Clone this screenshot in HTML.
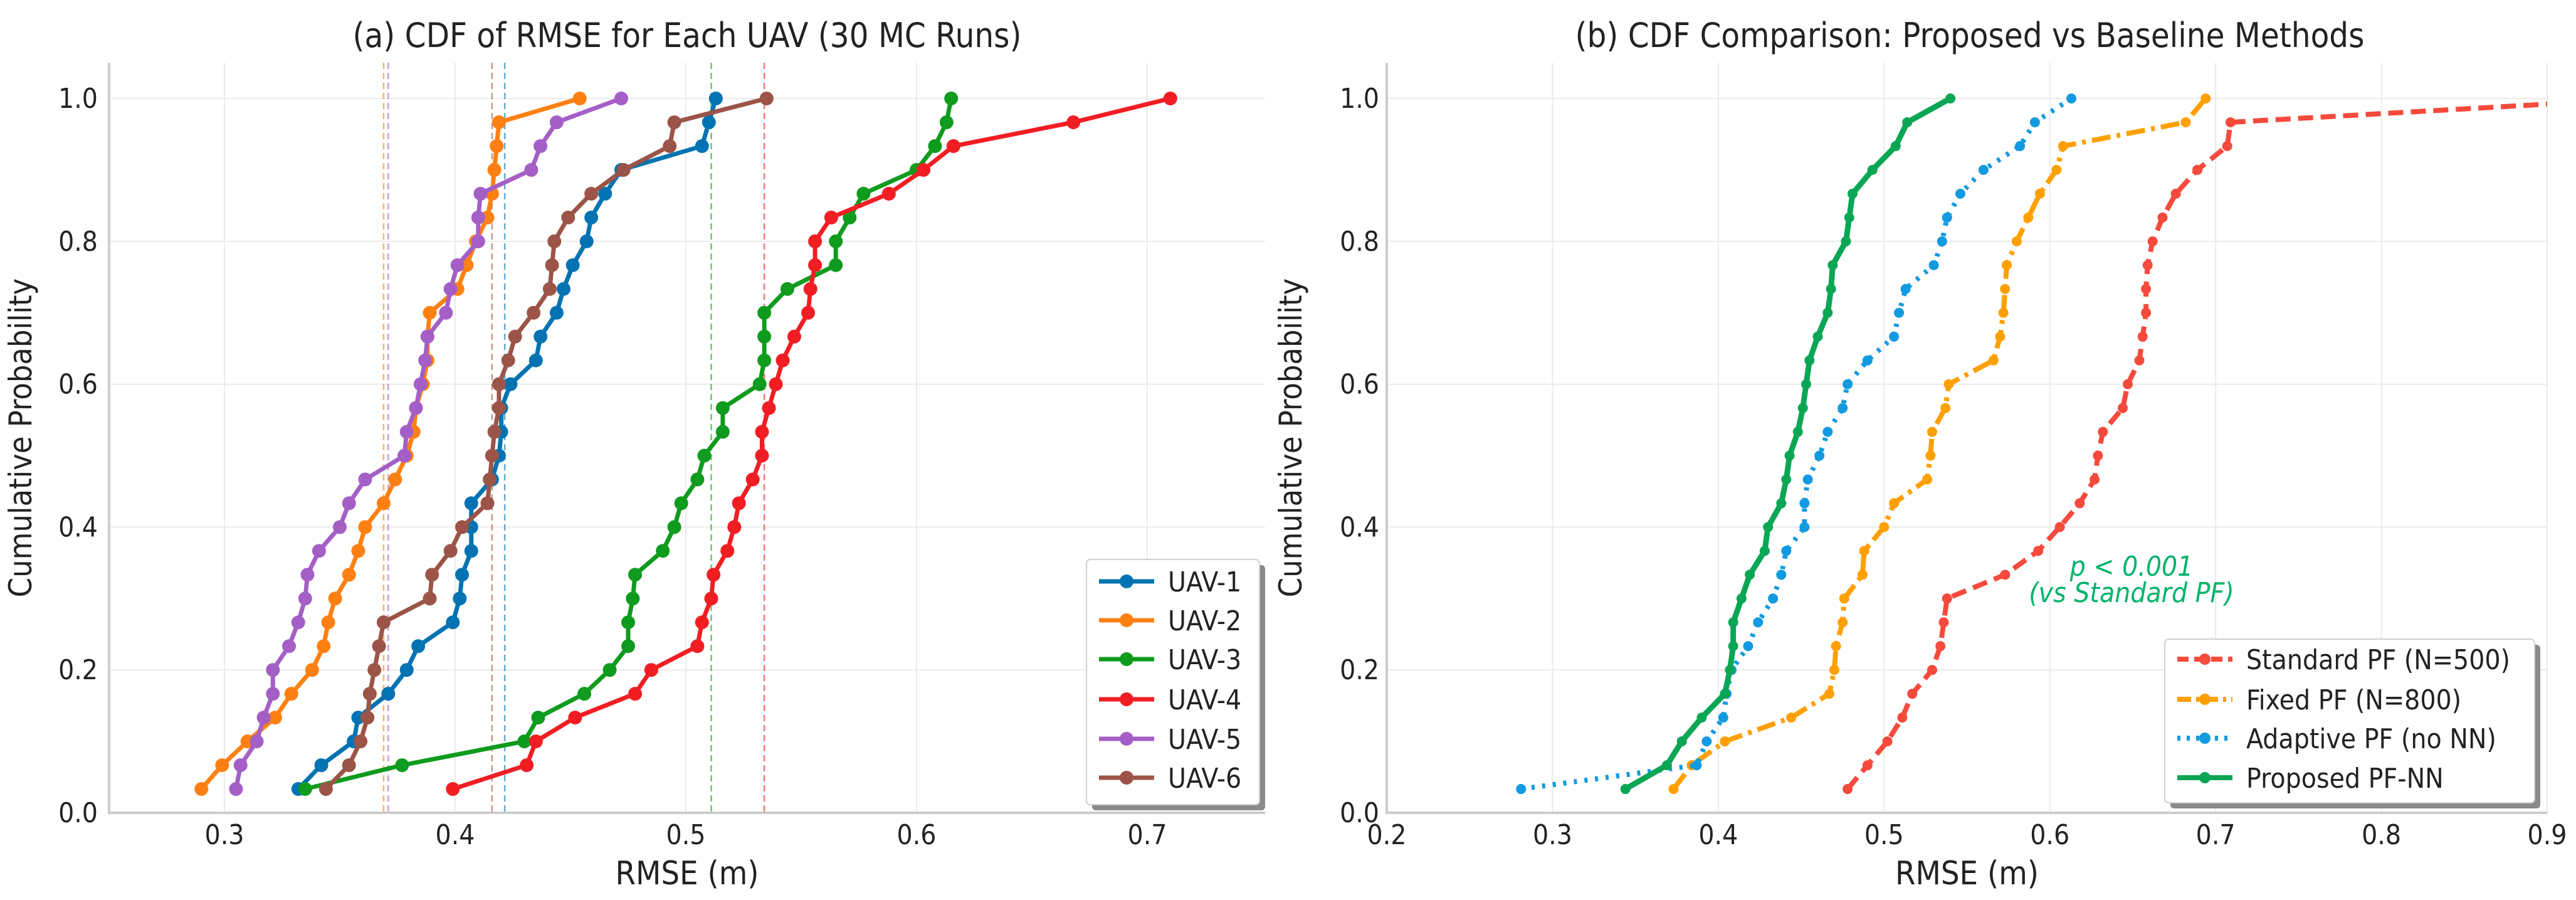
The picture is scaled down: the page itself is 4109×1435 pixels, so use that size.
<!DOCTYPE html>
<html><head><meta charset="utf-8"><style>
html,body{margin:0;padding:0;background:#fff;}
svg{display:block;}
text{font-family:"DejaVu Sans Condensed","DejaVu Sans","Liberation Sans",sans-serif;fill:#222;}
</style></head><body>
<svg id="fig" xmlns="http://www.w3.org/2000/svg" width="4109" height="1435" viewBox="0 0 4109 1435"></svg>
<script>
// ---------- Data: left panel ----------
const uavNames = ["UAV-1","UAV-2","UAV-3","UAV-4","UAV-5","UAV-6"];
const uav1 = [.332,.342,.356,.358,.371,.379,.384,.399,.402,.403,.407,.407,.407,.416,.419,.420,.420,.424,.435,.437,.444,.447,.451,.457,.459,.465,.472,.507,.510,.513];
const uav2 = [.290,.299,.310,.322,.329,.338,.343,.345,.348,.354,.358,.361,.369,.374,.379,.382,.383,.386,.388,.388,.389,.401,.405,.409,.414,.416,.417,.418,.419,.454];
const uav3 = [.335,.377,.430,.436,.456,.467,.475,.475,.477,.478,.490,.495,.498,.505,.508,.516,.516,.532,.534,.534,.534,.544,.565,.565,.571,.577,.600,.608,.613,.615];
const uav4 = [.399,.431,.435,.452,.478,.485,.505,.507,.511,.512,.518,.521,.523,.529,.533,.533,.536,.539,.542,.547,.553,.554,.556,.556,.563,.588,.603,.616,.668,.710];
const uav5 = [.305,.307,.314,.317,.321,.321,.328,.332,.335,.336,.341,.350,.354,.361,.378,.379,.383,.385,.387,.388,.396,.398,.401,.410,.410,.411,.433,.437,.444,.472];
const uav6 = [.344,.354,.359,.362,.363,.365,.367,.369,.389,.390,.398,.403,.414,.415,.416,.417,.419,.419,.423,.426,.434,.441,.442,.443,.449,.459,.473,.493,.495,.535];
const uavMeans = [.4215,.369,.511,.534,.371,.416];
const leftXTicks = [0.3,0.4,0.5,0.6,0.7];
const yTicks = [0.0,0.2,0.4,0.6,0.8,1.0];
// ---------- Data: right panel ----------
const methodNames = ["Standard PF (N=500)","Fixed PF (N=800)","Adaptive PF (no NN)","Proposed PF-NN"];
const standardPF = [.478,.490,.502,.511,.517,.529,.534,.536,.538,.573,.593,.606,.618,.627,.629,.632,.644,.647,.654,.656,.658,.658,.659,.662,.668,.676,.689,.707,.709,.960];
const fixedPF = [.373,.384,.404,.444,.467,.470,.471,.475,.476,.487,.488,.500,.506,.526,.528,.529,.537,.539,.566,.570,.572,.573,.574,.580,.587,.594,.604,.608,.682,.694];
const adaptivePF = [.281,.387,.393,.403,.405,.408,.418,.424,.433,.438,.441,.452,.452,.454,.461,.466,.475,.478,.490,.506,.509,.513,.530,.535,.538,.546,.560,.582,.591,.613];
const proposedPF = [.344,.369,.378,.390,.404,.407,.409,.409,.414,.419,.428,.430,.438,.441,.443,.448,.451,.453,.455,.460,.466,.468,.469,.477,.479,.481,.493,.507,.514,.540];
const rightXTicks = [0.2,0.3,0.4,0.5,0.6,0.7,0.8,0.9];

const NS="http://www.w3.org/2000/svg";
const svg=document.getElementById('fig');
function mk(tag,attrs,parent){const e=document.createElementNS(NS,tag);for(const k in attrs)e.setAttribute(k,attrs[k]);(parent||svg).appendChild(e);return e;}

const Y0=1296, Y1=157; // y=0 and y=1
function ys(v){return Y0+(Y1-Y0)*v;}
const yTop=ys(1.05), yBot=ys(0);

function drawAxes(g,x0,x1,xsc,xt,title,titleX,ylabX,ytickX){
  // grid
  xt.forEach(t=>{const l=mk('line',{x1:xsc(t),x2:xsc(t),y1:yTop,y2:yBot,stroke:'#ebebeb','stroke-width':2},g);
    
    });
  yTicks.forEach(t=>{const l=mk('line',{x1:x0,x2:x1,y1:ys(t),y2:ys(t),stroke:'#ebebeb','stroke-width':2},g);
    
    });
  const sp=mk('path',{d:`M${x0},${yTop}V${yBot}H${x1}`,fill:'none',stroke:'#cccccc','stroke-width':4},g);
  
  
  xt.forEach(t=>{const tx=mk('text',{x:xsc(t),y:1346,'font-size':44,'text-anchor':'middle'},g);tx.textContent=t.toFixed(1);
    
    });
  yTicks.forEach(t=>{const tx=mk('text',{x:ytickX,y:ys(t)+15,'font-size':44,'text-anchor':'end'},g);tx.textContent=t.toFixed(1);
    
    });
  const xl=mk('text',{x:(x0+x1)/2,y:1410,'font-size':52,'text-anchor':'middle'},g);xl.textContent='RMSE (m)';
  
  
  const yl=mk('text',{x:0,y:0,'font-size':50,'text-anchor':'middle','font-family':'DejaVu Sans, sans-serif',transform:`translate(${ylabX},${(yTop+yBot)/2}) rotate(-90)`},g);yl.textContent='Cumulative Probability';
  
  
  const ti=mk('text',{x:titleX,y:75,'font-size':54,'text-anchor':'middle'},g);ti.textContent=title;
  
  
}
function series(g,vals,xsc,color,lw,r,dash,name){
  const n=vals.length;
  const pts=vals.map((v,i)=>[xsc(v),ys((i+1)/n)]);
  const pl=mk('polyline',{points:pts.map(p=>p.join(',')).join(' '),fill:'none',stroke:color,'stroke-width':lw,'stroke-linejoin':'round'},g);
  if(dash)pl.setAttribute('stroke-dasharray',dash);
  
  
  pts.forEach(p=>{const c=mk('circle',{cx:p[0],cy:p[1],r:r,fill:color},g);
    
    });
}
function legend(g,x,y,w,h,names,colors,dashes,lw,r,rowY,fs){
  const sh=mk('rect',{x:x+9,y:y+9,width:w,height:h,rx:6,fill:'#8a8a8a'},g);
  
  
  const bx=mk('rect',{x:x,y:y,width:w,height:h,rx:6,fill:'#fff',stroke:'#d0d0d0','stroke-width':2},g);
  
  
  names.forEach((nm,i)=>{
    const ly=rowY[i];
    const e=mk('g',{},g);
    
    
    const l=mk('line',{x1:x+20,x2:x+108,y1:ly,y2:ly,stroke:colors[i],'stroke-width':lw},e);
    if(dashes[i])l.setAttribute('stroke-dasharray',dashes[i]);
    mk('circle',{cx:x+64,cy:ly,r:r,fill:colors[i]},e);
    const t=mk('text',{x:x+130,y:ly+16,'font-size':fs},e);t.textContent=nm;
  });
}

// ---- Left panel ----
const LX0=174, LX1=2018;
const lxs=v=>358+(v-0.3)*3680;
const gL=mk('g',{});


drawAxes(gL,LX0,LX1,lxs,leftXTicks,'(a) CDF of RMSE for Each UAV (30 MC Runs)',1096,50,156);
const uavColors=['#0173b2','#ff8012','#0f9b1e','#f01e23','#a45fc6','#9b5447'];
const uavData=[uav1,uav2,uav3,uav4,uav5,uav6];
uavMeans.forEach((m,i)=>{const l=mk('line',{x1:lxs(m),x2:lxs(m),y1:yTop,y2:yBot,stroke:uavColors[i],'stroke-width':2.5,'stroke-dasharray':'10,6',opacity:0.6},gL);
  
  });
uavData.forEach((d,i)=>series(gL,d,lxs,uavColors[i],7,11,null,uavNames[i].toLowerCase()));
legend(gL,1733,892,276,391,uavNames,uavColors,[null,null,null,null,null,null],7,11,[927,989,1051,1115,1178,1240],44);

// ---- Right panel ----
const RX0=2212, RX1=4063;
const rxs=v=>RX0+(v-0.2)*(RX1-RX0)/0.7;
const gR=mk('g',{});


drawAxes(gR,RX0,RX1,rxs,rightXTicks,'(b) CDF Comparison: Proposed vs Baseline Methods',3142,2076,2200);
const cp=mk('clipPath',{id:'rclip'},gR);mk('rect',{x:RX0-30,y:0,width:RX1-RX0+30,height:1435},cp);
const gRS=mk('g',{'clip-path':'url(#rclip)'},gR);


const mColors=['#f64a3c','#ffa000','#129ae0','#0aa655'];
const mDash=['24,12','30,10,6,10','5,12',null];
const mData=[standardPF,fixedPF,adaptivePF,proposedPF];
const mKeys=['standard-pf','fixed-pf','adaptive-pf','proposed-pf-nn'];
mData.forEach((d,i)=>series(gRS,d,rxs,mColors[i],i===3?9:8,8,mDash[i],mKeys[i]));
const a1=mk('text',{x:3400,y:918,'font-size':44,'text-anchor':'middle','font-style':'italic',style:'fill:#00b36b'},gR);a1.textContent='p < 0.001';


const a2=mk('text',{x:3400,y:960,'font-size':44,'text-anchor':'middle','font-style':'italic',style:'fill:#00b36b'},gR);a2.textContent='(vs Standard PF)';


legend(gR,3453,1019,590,261,methodNames,mColors,['18,9','22,8,5,8','5,10',null],8,9,[1051,1115,1177,1240],44);
</script>
</body></html>
